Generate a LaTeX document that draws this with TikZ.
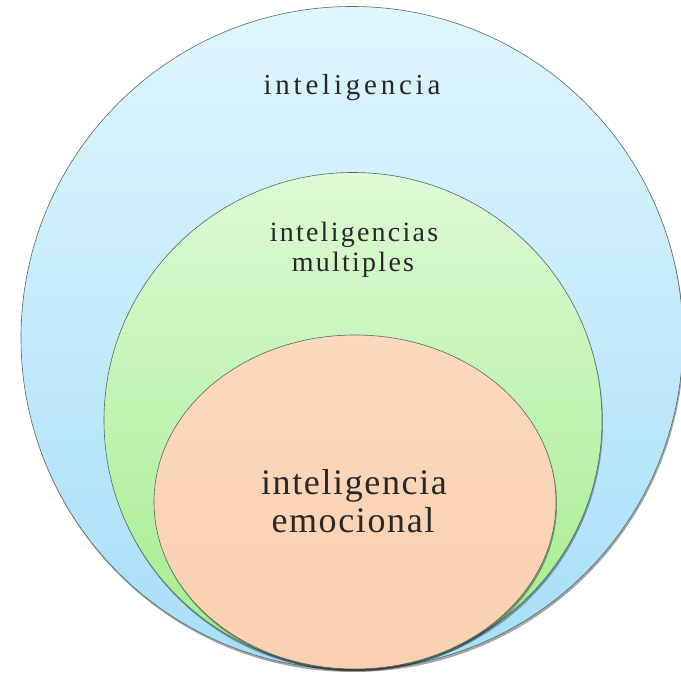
\documentclass[tikz,border=0pt]{standalone}
\usepackage{fontspec}
\usetikzlibrary{shapes.geometric,shadows}
\newfontfamily\fontA[LetterSpace=13]{Liberation Serif}
\newfontfamily\fontB[LetterSpace=8]{Liberation Serif}
\newfontfamily\fontC[LetterSpace=4.5]{Liberation Serif}
\definecolor{blueTop}{RGB}{224,246,254}
\definecolor{blueBot}{RGB}{166,222,248}
\definecolor{greenTop}{RGB}{222,250,214}
\definecolor{greenBot}{RGB}{162,236,140}
\definecolor{orTop}{RGB}{252,216,188}
\definecolor{orBot}{RGB}{250,208,176}
\definecolor{rim}{RGB}{85,105,100}
\definecolor{txt}{RGB}{40,40,40}
\begin{document}
\begin{tikzpicture}[x=1pt,y=1pt,
  blob/.style={ellipse, draw=rim, line width=0.6pt, inner sep=0pt,
    drop shadow={shadow xshift=1pt, shadow yshift=-2.5pt, opacity=0.35, fill=black}},
  lab/.style={anchor=base, inner sep=0pt, text=txt}]
\useasboundingbox (0,0) rectangle (681,675);
\node[blob, top color=blueTop, bottom color=blueBot,
  minimum width=662pt, minimum height=663pt] (outer) at (352,337) {};
\node[blob, top color=greenTop, bottom color=greenBot,
  minimum width=498pt, minimum height=496pt] (mid) at (353,254.5) {};
\node[blob, top color=orTop, bottom color=orBot,
  minimum width=402pt, minimum height=334pt] (inner) at (355,173) {};
\node[lab, font=\fontA\fontsize{29}{34}\selectfont] (t1) at (352,580) {inteligencia};
\node[lab, font=\fontB\fontsize{28}{33}\selectfont] (t2a) at (354,433) {inteligencias};
\node[lab, font=\fontB\fontsize{28}{33}\selectfont] (t2b) at (353,403) {multiples};
\node[lab, font=\fontC\fontsize{36}{42}\selectfont] (t3a) at (354,180) {inteligencia};
\node[lab, font=\fontC\fontsize{36}{42}\selectfont] (t3b) at (353,142) {emocional};
\end{tikzpicture}
\end{document}
